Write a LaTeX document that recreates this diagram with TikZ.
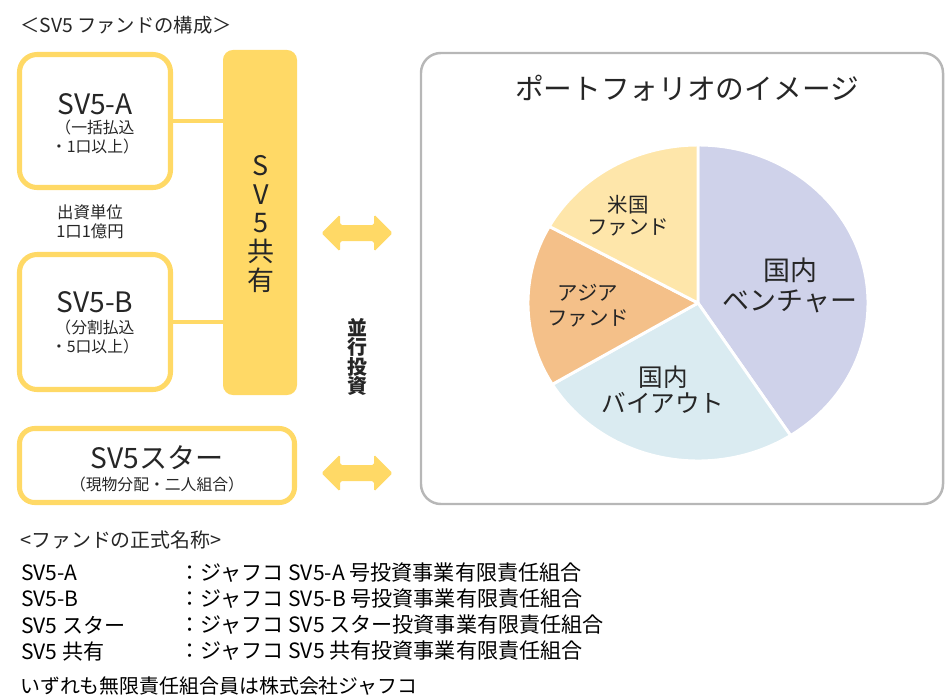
\documentclass[tikz,border=0pt]{standalone}
\usepackage{fontspec}
\setmainfont{Noto Sans CJK JP}
\usepackage{xcolor}
\usetikzlibrary{positioning}
\definecolor{ink}{HTML}{262626}
\definecolor{gold}{HTML}{FFD966}
\definecolor{panelgray}{HTML}{B7B7B7}
\definecolor{venture}{HTML}{CFD2EA}
\definecolor{buyout}{HTML}{DAEBF1}
\definecolor{asia}{HTML}{F4C089}
\definecolor{usfund}{HTML}{FEE6AA}

\begin{document}
\begin{tikzpicture}[y=-0.03cm,x=0.03cm,
	every node/.style={inner sep=0pt, text=ink},
	fundbox/.style={draw=gold, line width=4.3pt, fill=white, rounded corners=15pt},
	sharebar/.style={fill=gold, rounded corners=8.5pt, minimum width=2.22cm, minimum height=10.35cm},
	panel/.style={draw=panelgray, line width=2.1pt, rounded corners=17pt, minimum width=15.66cm, minimum height=13.53cm},
	link/.style={draw=gold, line width=3.4pt},
	boxtitle/.style={font=\fontsize{24}{27}\selectfont},
	boxnote/.style={font=\fontsize{13.5}{16}\selectfont, align=center},
	slice/.style={draw=white, line width=2.5pt, line join=round},
	listtext/.style={anchor=west, font=\fontsize{17}{20}\selectfont},
	rowtext/.style={anchor=west, font=\fontsize{18}{21}\selectfont, text=black}]
	\newcommand\Swap{+(-35.5,0) -- +(-17,-18.5) -- +(-17,-8) -- +(17,-8) -- +(17,-18.5) -- +(35.5,0) -- +(17,18.5) -- +(17,8) -- +(-17,8) -- +(-17,18.5) -- cycle}

	\useasboundingbox (0,0) rectangle (946,696);

	\node[anchor=west, font=\fontsize{16.5}{19}\selectfont] (maintitle) at (20,25) {＜SV5 ファンドの構成＞};

	\node[fundbox, minimum width=4.53cm, minimum height=3.99cm] (sva) at (95,121) {};
	\node[boxtitle] (svaname) at (95,104) {SV5-A};
	\node[boxnote] (svanote) at (95,137) {（一括払込\\・1口以上）};

	\node[font=\fontsize{14}{16.5}\selectfont, align=center] (unit) at (90,222) {出資単位\\1口1億円};

	\node[fundbox, minimum width=4.53cm, minimum height=4.05cm] (svb) at (95,322) {};
	\node[boxtitle] (svbname) at (95,302) {SV5-B};
	\node[boxnote] (svbnote) at (95,337) {（分割払込\\・5口以上）};

	\node[sharebar] (share) at (260,222.5) {};
	\node[font=\fontsize{23}{24.5}\selectfont, align=center] (sharename) at (261,224) {S\\V\\5\\共\\有};

	\draw[link] (sva.east) -- (sva.east -| share.west);
	\draw[link] (svb.east) -- (svb.east -| share.west);

	\node[fundbox, minimum width=8.25cm, minimum height=2.22cm, rounded corners=13pt] (star) at (157,465.5) {};
	\node[boxtitle] (starname) at (157,458) {SV5スター};
	\node[boxnote] (starnote) at (157,484) {（現物分配・二人組合）};

	\fill[gold, rounded corners=1.5pt] (357,233) \Swap;
	\fill[gold, rounded corners=1.5pt] (357,473) \Swap;
	\node[font=\fontsize{17}{16.6}\selectfont\bfseries, align=center] (parallel) at (357,357) {並\\行\\投\\資};

	\node[panel] (portfolio) at (682,278.5) {};
	\node[font=\fontsize{24.5}{28}\selectfont] (portitle) at (687,88) {ポートフォリオのイメージ};

	\coordinate (pie) at (698,303);
	\foreach \a/\b/\c in {-90/57/venture,57/149/buyout,149/209/asia,209/270/usfund}
		\draw[slice, fill=\c] (pie) -- ++(\a:170 and 158) arc[start angle=\a, end angle=\b, x radius=170, y radius=158] -- cycle;

	\node[font=\fontsize{23}{25.6}\selectfont, align=center] (ventlabel) at (790,285) {国内\\ベンチャー};
	\node[font=\fontsize{21}{22.2}\selectfont, align=center] (buylabel) at (663,390) {国内\\バイアウト};
	\node[font=\fontsize{17.5}{21.3}\selectfont, align=center] (asialabel) at (588,305.5) {アジア\\ファンド};
	\node[font=\fontsize{17.5}{18.8}\selectfont, align=center] (uslabel) at (628,216) {米国\\ファンド};

	\node[listtext] (fulltitle) at (20,540) {<ファンドの正式名称>};
	\foreach \y/\fname/\fformal in {573/SV5-A/ジャフコ SV5-A 号投資事業有限責任組合,
		599/SV5-B/ジャフコ SV5-B 号投資事業有限責任組合,
		625/SV5 スター/ジャフコ SV5 スター投資事業有限責任組合,
		651/SV5 共有/ジャフコ SV5 共有投資事業有限責任組合}{
		\node[rowtext] (fname\y) at (21,\y) {\fname};
		\node[rowtext] (fformal\y) at (179,\y) {：\fformal};
	}
	\node[listtext, text=black] (partner) at (20,686) {いずれも無限責任組合員は株式会社ジャフコ};
\end{tikzpicture}
\end{document}
